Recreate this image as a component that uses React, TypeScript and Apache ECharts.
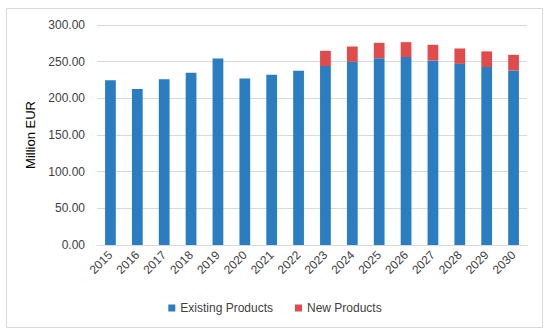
import React, { useEffect, useRef } from "react";
import * as echarts from "echarts";

const years = ["2015","2016","2017","2018","2019","2020","2021","2022","2023","2024","2025","2026","2027","2028","2029","2030"];
const existingProducts = [224.5, 212.6, 226, 234.8, 254.4, 227, 232, 237.6, 244, 249.8, 254.8, 256.2, 251.7, 247, 242.6, 238];
const newProducts = [null, null, null, null, null, null, null, null, 20.8, 20.9, 20.9, 20.4, 21.3, 21, 21.4, 21.3];
const yTicks = { min: 0, max: 300, interval: 50 };

export default function App() {
  const ref = useRef<HTMLDivElement>(null);
  useEffect(() => {
    const chart = echarts.init(ref.current!, null, { renderer: "svg" });
    const font = "'Liberation Sans', Arial, sans-serif";
    chart.setOption({
      animation: false,
      textStyle: { fontFamily: font },
      graphic: [
        {
          type: "rect",
          shape: { x: 6.5, y: 8.5, width: 536, height: 319 },
          style: { fill: "none", stroke: "#d9d9d9", lineWidth: 1 },
          silent: true,
        },
      ],
      grid: { left: 97, right: 23, top: 25, bottom: 90, containLabel: false },
      legend: {
        bottom: 16,
        left: "center",
        itemWidth: 7,
        itemHeight: 7,
        itemGap: 22,
        icon: "rect",
        textStyle: { fontSize: 12, color: "#404040", fontFamily: font },
        data: ["Existing Products", "New Products"],
      },
      xAxis: {
        type: "category",
        data: years,
        axisLine: { lineStyle: { color: "#d9d9d9" } },
        axisTick: { show: false },
        axisLabel: { rotate: 45, fontSize: 12, color: "#404040", margin: 8, interval: 0 },
      },
      yAxis: {
        type: "value",
        min: yTicks.min,
        max: yTicks.max,
        interval: yTicks.interval,
        name: "Million EUR",
        nameLocation: "middle",
        nameGap: 56,
        nameTextStyle: { fontSize: 13, color: "#000" },
        axisLine: { show: false },
        axisTick: { show: false },
        splitLine: { lineStyle: { color: "#d9d9d9" } },
        axisLabel: {
          fontSize: 12,
          color: "#404040",
          margin: 12,
          formatter: (v: number) => v.toFixed(2),
        },
      },
      series: [
        {
          name: "Existing Products",
          type: "bar",
          stack: "total",
          data: existingProducts,
          barWidth: "40%",
          itemStyle: { color: "#2a7dc0" },
        },
        {
          name: "New Products",
          type: "bar",
          stack: "total",
          data: newProducts,
          barWidth: "40%",
          itemStyle: { color: "#e04c4c" },
        },
      ],
    });
    return () => chart.dispose();
  }, []);
  return (
    <div
      ref={ref}
      style={{ position: "absolute", left: 0, top: 0, width: 550, height: 335, background: "#fff" }}
    />
  );
}
